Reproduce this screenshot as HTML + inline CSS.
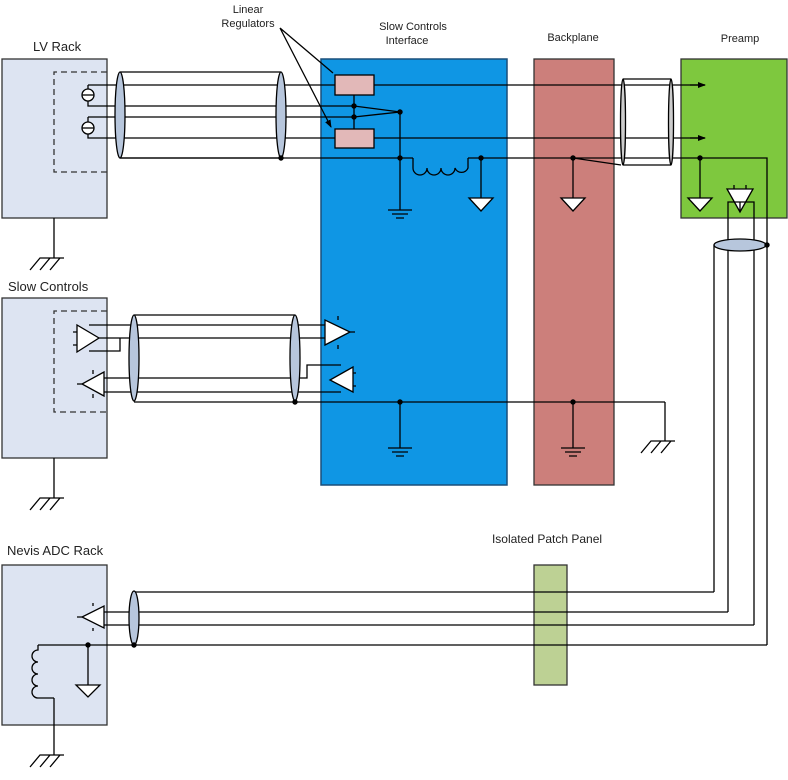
<!DOCTYPE html>
<html><head><meta charset="utf-8"><style>
html,body{margin:0;padding:0;background:#fff;}
svg{display:block;}
text{font-family:"Liberation Sans",sans-serif;fill:#222;}
</style></head><body>
<svg width="788" height="780" viewBox="0 0 788 780" xmlns="http://www.w3.org/2000/svg">
<defs>
<marker id="ar" markerWidth="8" markerHeight="8" refX="7" refY="4" orient="auto" markerUnits="userSpaceOnUse"><path d="M0,1 L8,4 L0,7 z" fill="#000"/></marker>
</defs>
<g stroke="#000" stroke-width="1.3" fill="none">
<rect x="2" y="59" width="105" height="159" fill="#dde4f2" stroke="#333"/>
<rect x="2" y="298" width="105" height="160" fill="#dde4f2" stroke="#333"/>
<rect x="2" y="565" width="105" height="160" fill="#dde4f2" stroke="#333"/>
<rect x="321" y="59" width="186" height="426" fill="#0f96e4" stroke="#1a4f7a" stroke-width="1.5"/>
<rect x="534" y="59" width="80" height="426" fill="#cc7f7b" stroke="#333"/>
<rect x="681" y="59" width="106" height="159" fill="#7ec83e" stroke="#333"/>
<rect x="534" y="565" width="33" height="120" fill="#bdd194" stroke="#333"/>
<path d="M107,72 H54 V172 H107" stroke-dasharray="6,4" stroke="#333"/>
<path d="M107,311 H54 V412 H107" stroke-dasharray="6,4" stroke="#333"/>
<path d="M120,72 H281 M120,158 H281"/>
<path d="M88,85 H335 M374,85 H705"/>
<path d="M88,85 V90 M88,100 V106 H354 L400,112 M88,117 H354 L400,112 M88,117 V123 M88,133 V138 H335 M374,138 H705" />
<line x1="690" y1="85" x2="705" y2="85" marker-end="url(#ar)"/>
<line x1="690" y1="138" x2="705" y2="138" marker-end="url(#ar)"/>
<circle cx="88" cy="95" r="6" fill="#fff"/><line x1="82" y1="95" x2="94" y2="95"/>
<circle cx="88" cy="128" r="6" fill="#fff"/><line x1="82" y1="128" x2="94" y2="128"/>
<ellipse cx="120" cy="115" rx="5" ry="43" fill="#b7c6dc"/>
<ellipse cx="281" cy="115" rx="5" ry="43" fill="#b7c6dc"/>
<path d="M120,158 H413 M468,158 H573 L621,165 M573,158 H767 V245"/>
<path d="M413,158 v10 a7,7 0 0 0 14,0 a7,7 0 0 0 14,0 a7,7 0 0 0 14,0 a7,7 0 0 0 13,0 v-10"/>
<rect x="335" y="75" width="39" height="20" fill="#e2b8b8"/>
<rect x="335" y="129" width="39" height="19" fill="#e2b8b8"/>
<path d="M354,95 V129"/>
<path d="M400,112 V210 M388,210 H412 M392,214 H408 M396,218 H404"/>
<path d="M481,158 V198 M573,158 V198 M700,158 V198"/>
<path d="M469,198 H493 L481,211 Z M561,198 H585 L573,211 Z M688,198 H712 L700,211 Z" fill="#fff"/>
<path d="M623,79 H671 M623,165 H671"/>
<ellipse cx="623" cy="122" rx="2.5" ry="43" fill="#ccc"/>
<ellipse cx="671" cy="122" rx="2.5" ry="43" fill="#ccc"/>
<path d="M727,189 H753 L740,212 Z" fill="#fff"/>
<path d="M734,189 v-4 M746,189 v-4"/>
<path d="M728,612 V202 H754 V625"/>
<path d="M740,202 v10"/>
<path d="M714,592 V245 M767,245 V645"/>
<ellipse cx="740" cy="245" rx="26" ry="6" fill="#b7c6dc"/>
<path d="M280,28 L333,73 M280,28 L331,127" marker-end="url(#ar)"/>
<path d="M54,218 V258 M30,270 L40,258 H64 M40,270 L50,258 M50,270 L60,258"/>
<path d="M54,458 V498 M30,510 L40,498 H64 M40,510 L50,498 M50,510 L60,498"/>
<path d="M54,698 V755 M30,767 L40,755 H64 M40,767 L50,755 M50,767 L60,755"/>
<path d="M665,402 V441 M641,453 L651,441 H675 M651,453 L661,441 M661,453 L671,441"/>
<path d="M134,315 H295 M134,402 H665"/>
<path d="M77,325 V352 L99,338 Z" fill="#fff"/>
<path d="M73,332 h4 M73,345 h4"/>
<path d="M89,325 H325 M99,338 H105 M120,338 H325 M105,338 H120 V351 H89"/>
<path d="M325,320 V345 L350,332 Z" fill="#fff"/>
<path d="M350,332 h5 M338,316 v4 M338,345 v4"/>
<path d="M104,372 V396 L82,384 Z" fill="#fff"/>
<path d="M77,384 h5 M93,374 v-4 M93,394 v4"/>
<path d="M104,378 H307 V365 H341 M104,392 H341"/>
<path d="M353,367 V392 L330,380 Z" fill="#fff"/>
<path d="M353,373 h3 M353,386 h3"/>
<ellipse cx="134" cy="358" rx="5" ry="43" fill="#b7c6dc"/>
<ellipse cx="295" cy="358" rx="5" ry="43" fill="#b7c6dc"/>
<path d="M400,402 V448 M388,448 H412 M392,452 H408 M396,456 H404"/>
<path d="M573,402 V448 M561,448 H585 M565,452 H581 M569,456 H577"/>
<path d="M134,592 H714 M104,612 H728 M104,625 H754 M38,645 H767"/>
<path d="M104,606 V628 L82,617 Z" fill="#fff"/>
<path d="M77,617 h5 M93,606 v-3 M93,628 v3"/>
<ellipse cx="134" cy="618" rx="5" ry="27" fill="#b7c6dc"/>
<path d="M38,645 v5 a6,6 0 0 0 0,12 a6,6 0 0 0 0,12 a6,6 0 0 0 0,12 a6,6 0 0 0 0,12 H54"/>
<path d="M88,645 V685"/>
<path d="M76,685 H100 L88,697 Z" fill="#fff"/>
</g>
<g fill="#000">
<circle cx="354" cy="106" r="2.7"/><circle cx="354" cy="117" r="2.7"/><circle cx="400" cy="112" r="2.7"/>
<circle cx="281" cy="158" r="2.7"/><circle cx="400" cy="158" r="2.7"/><circle cx="481" cy="158" r="2.7"/>
<circle cx="573" cy="158" r="2.7"/><circle cx="700" cy="158" r="2.7"/><circle cx="767" cy="245" r="2.7"/>
<circle cx="295" cy="402" r="2.7"/><circle cx="400" cy="402" r="2.7"/><circle cx="573" cy="402" r="2.7"/>
<circle cx="88" cy="645" r="2.7"/><circle cx="134" cy="645" r="2.7"/>
</g>
<text x="33" y="51" font-size="13">LV Rack</text>
<text x="248" y="13" font-size="11" text-anchor="middle">Linear</text>
<text x="248" y="27" font-size="11" text-anchor="middle">Regulators</text>
<text x="413" y="30" font-size="11" text-anchor="middle">Slow Controls</text>
<text x="407" y="44" font-size="11" text-anchor="middle">Interface</text>
<text x="573" y="41" font-size="11" text-anchor="middle">Backplane</text>
<text x="740" y="42" font-size="11" text-anchor="middle">Preamp</text>
<text x="8" y="291" font-size="13">Slow Controls</text>
<text x="547" y="543" font-size="12" text-anchor="middle">Isolated Patch Panel</text>
<text x="7" y="555" font-size="13">Nevis ADC Rack</text>
</svg>
</body></html>
